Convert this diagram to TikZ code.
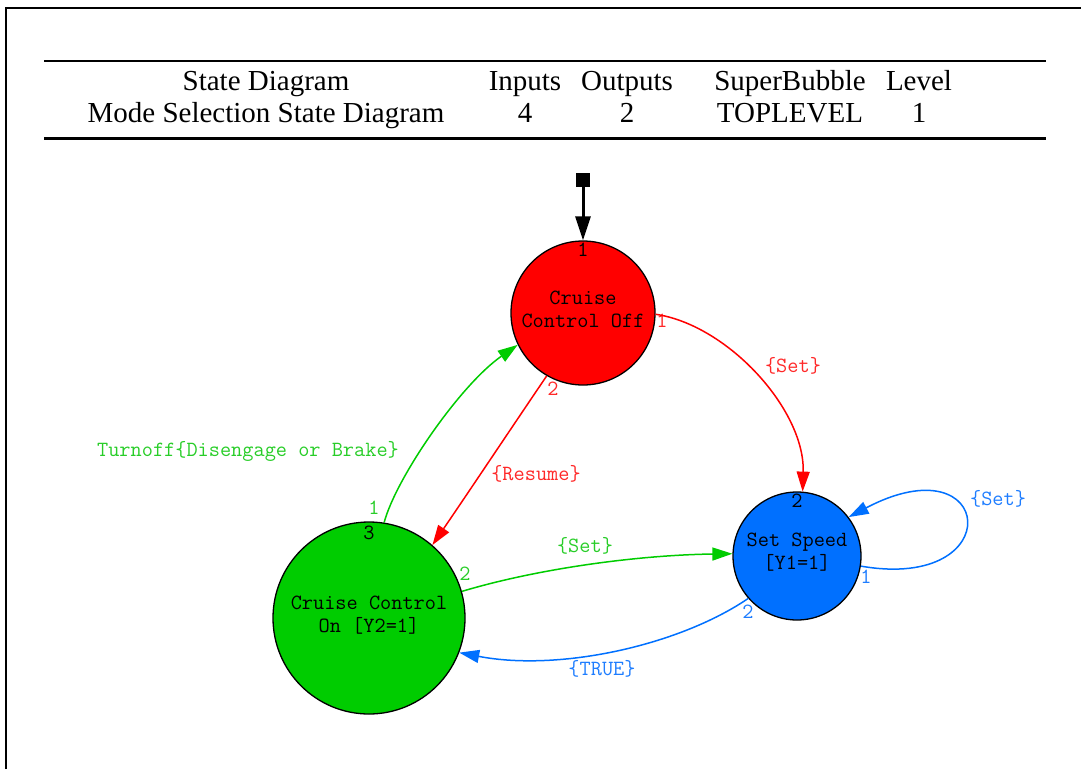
\documentclass[tikz,border=0pt]{standalone}
\usepackage{fontspec}
\setmainfont{Liberation Serif}
\usetikzlibrary{arrows.meta}
\definecolor{cred}{RGB}{255,0,0}
\definecolor{cgreen}{RGB}{0,204,0}
\definecolor{cblue}{RGB}{0,112,255}
\definecolor{tred}{RGB}{255,40,40}
\definecolor{tgreen}{RGB}{40,205,40}
\definecolor{tblue}{RGB}{30,125,255}
\tikzset{
  state/.style={circle, draw=black, line width=1.3pt, inner sep=0pt, align=center,
    font=\ttfamily\fontsize{21.7}{23}\selectfont},
  edge/.style={line width=1.5pt, -{Triangle[length=20pt,width=13pt]}},
  lbl/.style={font=\ttfamily\fontsize{21.7}{23}\selectfont, inner sep=0pt},
  hdr/.style={font=\fontsize{29}{31}\selectfont, inner sep=0pt, anchor=base}
}
\begin{document}
\begin{tikzpicture}[x=1pt,y=-1pt]
\useasboundingbox (0,0) rectangle (1081,769);
% frame
\draw[line width=2.2pt] (6,769) -- (6,8) -- (1081,8);
\draw[line width=1.8pt] (44,61) -- (1046,61);
\draw[line width=3pt] (44,138) -- (1046,138);
% header
\node[hdr] (h1) at (266,90) {State Diagram};
\node[hdr] (h2) at (525,90) {Inputs};
\node[hdr] (h3) at (627,90) {Outputs};
\node[hdr] (h4) at (790,90) {SuperBubble};
\node[hdr] (h5) at (919,90) {Level};
\node[hdr] (v1) at (266,122) {Mode Selection State Diagram};
\node[hdr] (v2) at (525,122) {4};
\node[hdr] (v3) at (627,122) {2};
\node[hdr] (v4) at (790,122) {TOPLEVEL};
\node[hdr] (v5) at (919,122) {1};
% states
\node[state, fill=cred, minimum size=144pt] (off) at (583,313) {};
\node[state, fill=cgreen, minimum size=192pt] (on) at (369,618) {};
\node[state, fill=cblue, minimum size=128pt] (set) at (797,556) {};
\node[lbl, align=center] (offt) at (583,309) {Cruise\\Control Off};
\node[lbl, align=center] (ont) at (369,615) {Cruise Control\\On [Y2=1]};
\node[lbl, align=center] (sett) at (797,552) {Set Speed\\{[Y1=1]}};
% start
\node[fill=black, minimum size=14pt, inner sep=0pt] (init) at (583,180) {};
\draw[line width=3pt, -{Triangle[length=24pt,width=15pt]}] (init) -- (off.north);
% port numbers
\node[lbl] (p1) at (583,250) {1};
\node[lbl] (p2) at (369,533) {3};
\node[lbl] (p3) at (797,501) {2};
\node[lbl, text=tred] (p4) at (662,321) {1};
\node[lbl, text=tred] (p5) at (553,389) {2};
\node[lbl, text=tgreen] (p6) at (374,508) {1};
\node[lbl, text=tgreen] (p7) at (465,574) {2};
\node[lbl, text=tblue] (p8) at (866,577) {1};
\node[lbl, text=tblue] (p9) at (748,612) {2};
% edges
\draw[edge, cred] (off.-1) .. controls (728,325) and (805,410) .. (set.85.5);
\draw[edge, cred] (off.240) .. controls (510,430) and (470,490) .. (on.49);
\draw[edge, cgreen] (on.81) .. controls (396,478) and (460,385) .. (off.206);
\draw[edge, cgreen] (on.16.4) .. controls (540,568) and (640,555) .. (set.178);
\draw[edge, cblue] (set.221) .. controls (680,645) and (560,672) .. (on.-21);
\draw[edge, cblue] (set.-9) .. controls (1010,592) and (995,440) .. (set.37);
% edge labels
\node[lbl, text=tred] (l1) at (793,366) {\{Set\}};
\node[lbl, text=tred] (l2) at (536,474) {\{Resume\}};
\node[lbl, text=tgreen] (l3) at (248,451) {Turnoff\{Disengage or Brake\}};
\node[lbl, text=tgreen] (l4) at (585,546) {\{Set\}};
\node[lbl, text=tblue] (l5) at (602,669) {\{TRUE\}};
\node[lbl, text=tblue] (l6) at (998,499) {\{Set\}};
\end{tikzpicture}
\end{document}
